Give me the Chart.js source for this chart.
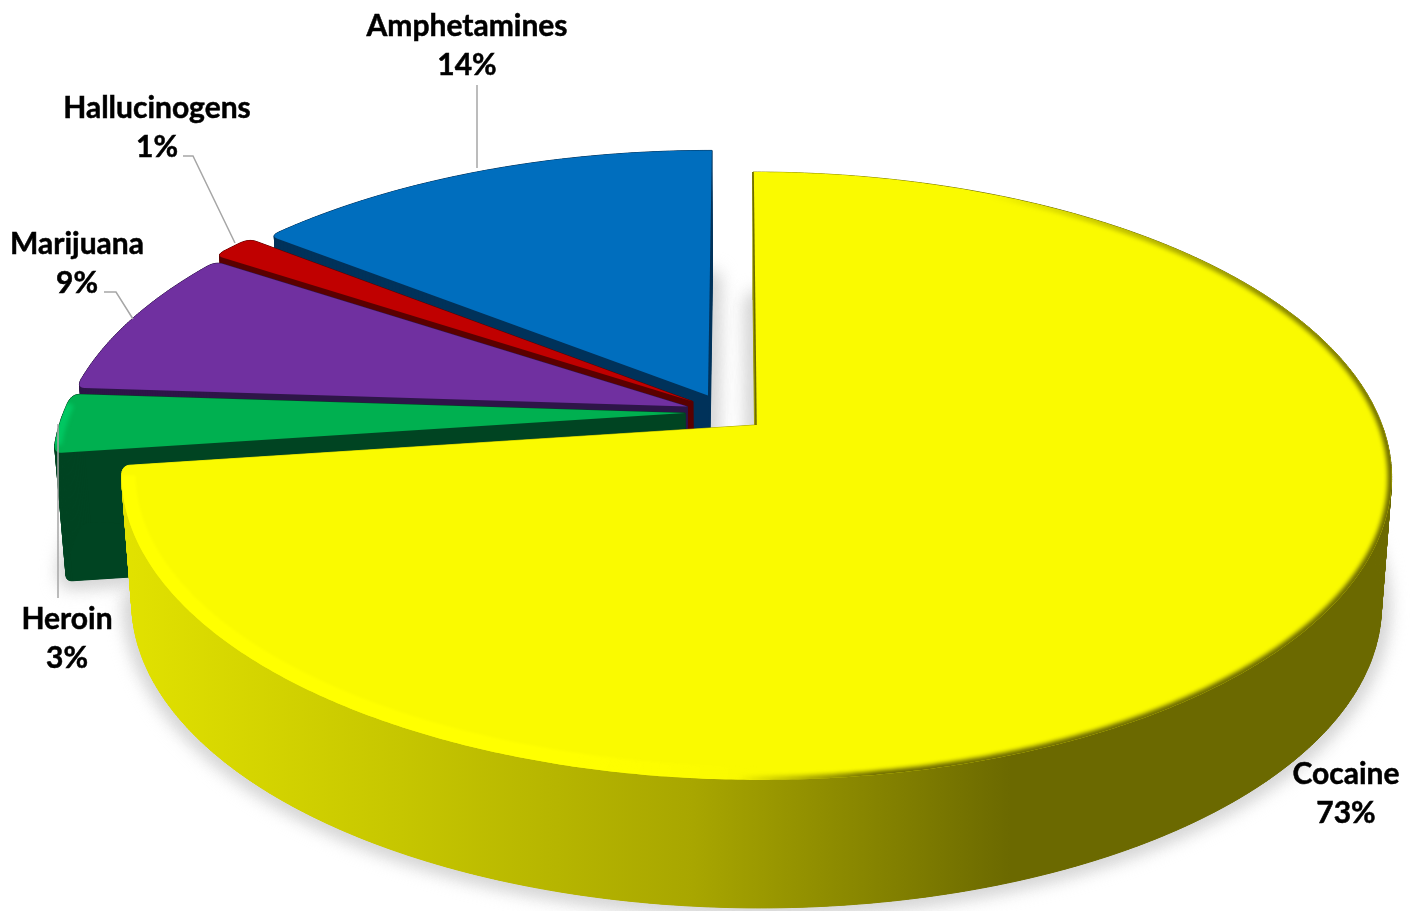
<!DOCTYPE html>
<html>
<head>
<meta charset="utf-8">
<style>
  html, body { margin: 0; padding: 0; background: #fff; }
  canvas { display: block; }
</style>
<script src="https://cdn.jsdelivr.net/npm/chart.js@4"></script>
</head>
<body>
<canvas id="drugChart" width="1415" height="911"></canvas>
<script>
// --- data ---
const categories = ['Cocaine', 'Heroin', 'Marijuana', 'Hallucinogens', 'Amphetamines'];
// slice sizes as measured on the picture, the printed labels are the source's own
const shares = [72.85, 3.2, 8.15, 1.35, 14.45];
const shareLabels = ['73%', '3%', '9%', '1%', '14%'];
const topColors = ['#fafa00', '#00b050', '#7030a0', '#c00000', '#006ebe'];
const sideColors = ['#6b6900', '#004422', '#2e1548', '#5a0000', '#00325a'];

// --- look of the tilted pie (screen px, fitted on the picture) ---
const X0 = 756, Y0 = 425, A = 626, B = 295.4, C = -3.5, PERSP = 0.1677;
const EXPLODE = 0.065, DEPTH = 128, BASE_SCALE = 0.984;
const RED_REACH = 1.015; // the small slice sticks out a bit further

// pie plane -> screen, v points away from the viewer
function project(u, v) {
    const w = 1 + PERSP * v;
    return { x: X0 + (A * u + C * v) / w, y: Y0 - B * v / w };
}
function toBase(p) {
    return { x: X0 + (p.x - X0) * BASE_SCALE, y: p.y + DEPTH };
}

function dist(a, b) { return Math.hypot(a.x - b.x, a.y - b.y); }
function curve(a, c, b) {
    const out = [];
    for (let t = 0; t <= 1.001; t += 0.125) {
        const s = 1 - t;
        out.push({ x: s * s * a.x + 2 * s * t * c.x + t * t * b.x, y: s * s * a.y + 2 * s * t * c.y + t * t * b.y });
    }
    return out;
}

// apex + arc, corners on the left side of the pie get rounded off
function outlineOf(el, cu, cv, radius, reach) {
    const t0 = el.startAngle + Math.PI / 2, t1 = el.endAngle + Math.PI / 2;
    const n = Math.max(8, Math.ceil((t1 - t0) / 0.008));
    const arc = [];
    for (let i = 0; i <= n; i++) {
        const t = t0 + (t1 - t0) * i / n;
        arc.push(project(cu + reach * Math.sin(t), cv + reach * Math.cos(t)));
    }
    const apex = project(cu, cv);
    const first = arc[0], last = arc[arc.length - 1];
    const roundFirst = Math.sin(t0) < -0.3, roundLast = Math.sin(t1) < -0.3;
    const kept = arc.filter(p => (!roundFirst || dist(p, first) > radius) && (!roundLast || dist(p, last) > radius));
    const along = (c, r) => {
        const d = dist(apex, c);
        return { x: c.x + (apex.x - c.x) * r / d, y: c.y + (apex.y - c.y) * r / d };
    };
    const head = roundFirst ? curve(along(first, radius), first, kept[0]) : [];
    const tail = roundLast ? curve(kept[kept.length - 1], last, along(last, radius)) : [];
    return { apex, first, arc: kept, points: [apex, ...head, ...kept, ...tail] };
}

function tracePath(ctx, pts) {
    ctx.beginPath();
    pts.forEach((p, i) => i ? ctx.lineTo(p.x, p.y) : ctx.moveTo(p.x, p.y));
    ctx.closePath();
}
function traceLine(ctx, pts) {
    ctx.beginPath();
    pts.forEach((p, i) => i ? ctx.lineTo(p.x, p.y) : ctx.moveTo(p.x, p.y));
}

function sideFill(ctx, index) {
    if (index !== 0) return sideColors[index];
    const g = ctx.createLinearGradient(122, 0, 1392, 0);
    g.addColorStop(0, '#e2e200');
    g.addColorStop(0.22, '#c6c600');
    g.addColorStop(0.45, '#a8a600');
    g.addColorStop(0.62, '#7f7d00');
    g.addColorStop(0.70, sideColors[0]);
    g.addColorStop(1, sideColors[0]);
    return g;
}

function drawSide(ctx, pts, style) {
    const base = pts.map(toBase);
    ctx.fillStyle = style;
    ctx.strokeStyle = style;
    ctx.lineWidth = 1;
    tracePath(ctx, base);
    ctx.fill();
    for (let i = 0; i < pts.length; i++) {
        const j = (i + 1) % pts.length;
        tracePath(ctx, [pts[i], pts[j], base[j], base[i]]);
        ctx.fill();
        ctx.stroke();
    }
}

// soft rim just inside the top face, fades by direction from the pie middle
function rim(ctx, shape, arcPts, stops, width, blur) {
    const g = ctx.createConicGradient(0, X0, 476);
    stops.forEach(s => g.addColorStop(s[0], s[1]));
    ctx.save();
    tracePath(ctx, shape);
    ctx.clip();
    ctx.filter = 'blur(' + blur + 'px)';
    ctx.strokeStyle = g;
    ctx.lineWidth = width;
    traceLine(ctx, arcPts);
    ctx.stroke();
    ctx.restore();
}

const tiltedPie = {
    id: 'tiltedPie',
    beforeDatasetsDraw(chart) {
        const ctx = chart.ctx;
        const arcs = chart.getDatasetMeta(0).data;
        const midOf = el => (el.startAngle + el.endAngle) / 2 + Math.PI / 2;

        // the big slice sits at the plane origin, the shared centre is behind it
        const m0 = midOf(arcs[0]);
        const ou = -EXPLODE * Math.sin(m0), ov = -EXPLODE * Math.cos(m0);
        const shapes = arcs.map((el, i) => {
            const m = midOf(el);
            return outlineOf(el, ou + EXPLODE * Math.sin(m), ov + EXPLODE * Math.cos(m), 8, i === 3 ? RED_REACH : 1);
        });

        // ground shadow
        ctx.save();
        ctx.filter = 'blur(9px)';
        ctx.fillStyle = '#cfcfcf';
        ctx.strokeStyle = '#cfcfcf';
        ctx.lineWidth = 14;
        ctx.lineJoin = 'round';
        shapes.forEach(s => {
            tracePath(ctx, s.points.map(toBase));
            ctx.fill();
            ctx.stroke();
        });
        ctx.restore();

        // back to front
        for (let i = arcs.length - 1; i >= 0; i--) {
            const s = shapes[i];
            drawSide(ctx, s.points, sideFill(ctx, i));
            ctx.fillStyle = arcs[i].options.backgroundColor;
            tracePath(ctx, s.points);
            ctx.fill();
        }

        // bevels
        const big = shapes[0];
        rim(ctx, big.points, big.arc, [
            [0, 'rgba(255,255,0,0)'], [0.25, 'rgba(255,255,0,0)'], [0.34, 'rgba(255,255,0,1)'],
            [0.6, 'rgba(255,255,0,1)'], [0.62, 'rgba(255,255,0,0)'], [1, 'rgba(255,255,0,0)']
        ], 28, 1.5);
        rim(ctx, big.points, big.arc, [
            [0, 'rgba(107,105,0,1)'], [0.19, 'rgba(107,105,0,1)'], [0.26, 'rgba(107,105,0,0)'],
            [0.86, 'rgba(107,105,0,0)'], [0.95, 'rgba(107,105,0,0.8)'], [1, 'rgba(107,105,0,1)']
        ], 8, 2.2);
        rim(ctx, shapes[1].points, shapes[1].arc, [
            [0, 'rgba(0,230,120,0.45)'], [1, 'rgba(0,230,120,0.45)']
        ], 14, 2);

        // dark line down the big slice's straight edge
        ctx.strokeStyle = sideColors[0];
        ctx.lineWidth = 1.6;
        traceLine(ctx, [big.first, big.apex]);
        ctx.stroke();
        return false;
    },
    afterDraw(chart) {
        const ctx = chart.ctx;
        const leaders = [
            [[477, 85], [477, 168]],
            [[183, 156], [193, 156], [235, 243]],
            [[104, 292], [116, 292], [133, 319]],
            [[58, 424], [58, 598]]
        ];
        ctx.save();
        ctx.strokeStyle = '#a6a6a6';
        ctx.lineWidth = 1.5;
        leaders.forEach(line => {
            traceLine(ctx, line.map(p => ({ x: p[0], y: p[1] })));
            ctx.stroke();
        });
        // same order as categories
        const anchors = [[1346, 774], [67, 619], [77, 244], [157, 108], [467, 26]];
        ctx.fillStyle = '#000';
        ctx.strokeStyle = '#000';
        ctx.lineWidth = 0.5;
        ctx.font = 'bold 30px Lato, "Open Sans", sans-serif';
        ctx.textAlign = 'center';
        ctx.textBaseline = 'middle';
        categories.forEach((name, i) => {
            ctx.fillText(name, anchors[i][0], anchors[i][1]);
            ctx.strokeText(name, anchors[i][0], anchors[i][1]);
            ctx.fillText(shareLabels[i], anchors[i][0], anchors[i][1] + 39.5);
            ctx.strokeText(shareLabels[i], anchors[i][0], anchors[i][1] + 39.5);
        });
        ctx.restore();
    }
};

new Chart(document.getElementById('drugChart').getContext('2d'), {
    type: 'pie',
    data: {
        labels: categories,
        datasets: [{
            data: shares,
            backgroundColor: topColors,
            borderWidth: 0
        }]
    },
    options: {
        responsive: false,
        animation: false,
        rotation: 0,
        plugins: {
            legend: { display: false },
            tooltip: { enabled: false },
            title: { display: false }
        }
    },
    plugins: [tiltedPie]
});
</script>
</body>
</html>
